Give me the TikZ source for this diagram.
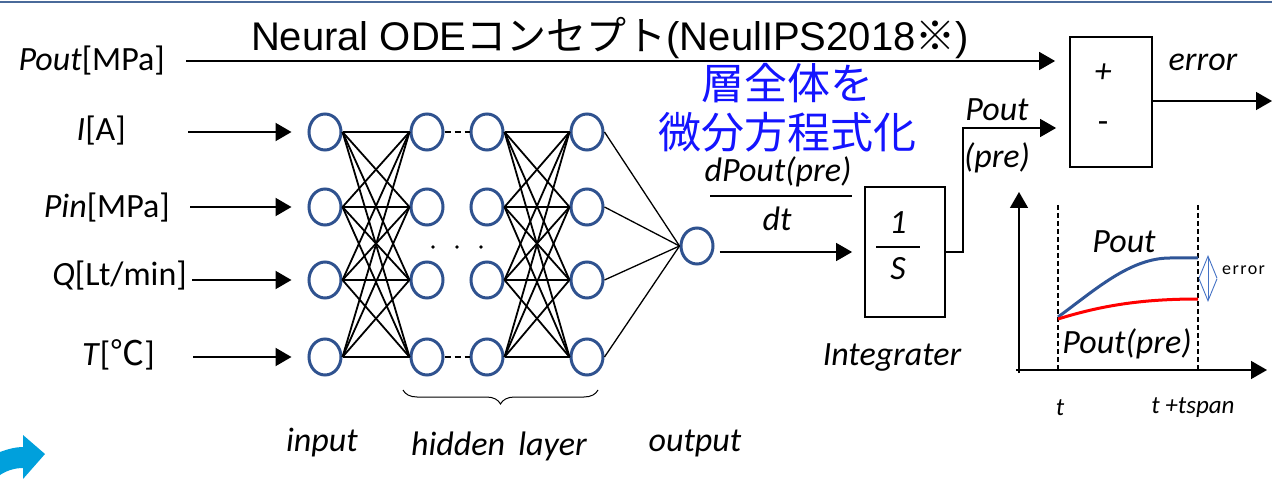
\documentclass[tikz,border=0pt]{standalone}
\usepackage{fontspec}
\setmainfont{Carlito}
\newfontfamily\titlefont{Liberation Sans}
\newfontfamily\jpfont{Noto Sans CJK JP}
\usetikzlibrary{arrows.meta,shapes.geometric,decorations.pathreplacing}
\definecolor{neuronblue}{RGB}{47,82,143}
\definecolor{curveblue}{RGB}{47,85,151}
\definecolor{errblue}{RGB}{68,114,196}
\definecolor{frameblue}{RGB}{74,106,154}
\definecolor{decoblue}{RGB}{0,160,220}
\definecolor{jpblue}{RGB}{20,20,255}
\begin{document}
\begin{tikzpicture}[x=1pt,y=-1pt,
  neuron/.style={ellipse, draw=neuronblue, line width=3pt, minimum width=32pt, minimum height=36pt, inner sep=0pt},
  lab/.style={inner sep=0pt, font=\fontsize{34}{40}\selectfont},
  ilab/.style={inner sep=0pt, font=\fontsize{34}{40}\selectfont\itshape},
  arr/.style={-{Triangle[length=16pt,width=18pt]}},
  link/.style={line width=1.8pt},
  thinlink/.style={line width=1.3pt},
  blockbox/.style={draw, line width=1.8pt, rectangle, inner sep=0pt}
]
\useasboundingbox (0,0) rectangle (1272,486);

% frame line along the top
\draw[frameblue, line width=2pt] (0,2) -- (1272,2);

% title
\node[inner sep=0pt, font=\titlefont\fontsize{40}{48}\selectfont] (title) at (610,38)
  {Neural ODE{\jpfont コンセプト}(NeulIPS2018{\jpfont ※})};

% blue caption
\node[inner sep=0pt, font=\jpfont\fontsize{43}{49}\selectfont, text=jpblue, align=center] (caption) at (787,108)
  {層全体を\\微分方程式化};

% input labels
\node[lab, anchor=east] (lPout) at (165,61) {\textit{Pout}[MPa]};
\node[lab, anchor=east] (lI) at (126,131) {\textit{I}[A]};
\node[lab, anchor=east] (lPin) at (170,208) {\textit{Pin}[MPa]};
\node[lab, anchor=east] (lQ) at (187,276) {\textit{Q}[Lt/min]};
\node[lab, anchor=east] (lT) at (155,355) {\textit{T}[{\jpfont ℃}]};

% neurons
\foreach \c/\x in {1/325,2/427,3/487,4/587}{
  \foreach \r/\y in {1/132,2/207,3/280,4/357}{
    \node[neuron] (n\c\r) at (\x,\y) {};
  }
}
\node[neuron] (o) at (697,246) {};

% fully connected layers
\foreach \a in {1,2,3,4}{
  \foreach \b in {1,2,3,4}{
    \draw[link] (n1\a.east) -- (n2\b.west);
    \draw[link] (n3\a.east) -- (n4\b.west);
  }
  \draw[thinlink] (n4\a.east) -- (o.west);
}
\draw[thinlink, dash pattern=on 6pt off 4pt] (n21.east) -- (n31.west);
\draw[thinlink, dash pattern=on 6pt off 4pt] (n24.east) -- (n34.west);
\foreach \x in {433,457,481}{ \fill (\x,247) circle (1.8pt); }

% input arrows
\coordinate (sI) at (188,132);
\coordinate (sPin) at (190,207);
\coordinate (sQ) at (192,280);
\coordinate (sT) at (193,357);
\draw[arr, line width=2pt, shorten >=16pt] (sI) -- (n11.west);
\draw[arr, line width=2pt, shorten >=16pt] (sPin) -- (n12.west);
\draw[arr, line width=2pt, shorten >=16pt] (sQ) -- (n13.west);
\draw[arr, line width=2pt, shorten >=16pt] (sT) -- (n14.west);

% brace and layer names
\draw[line width=1pt, decorate, decoration={brace, mirror, amplitude=14pt}] (403,390) -- (598,390);
\node[ilab] (tInput) at (322,443) {input};
\node[ilab] (tHidden) at (499,446) {hidden\, layer};
\node[ilab] (tOutput) at (695,443) {output};

% integrator
\node[blockbox, minimum width=80pt, minimum height=130pt] (integ) at (905,252) {};
\node[ilab] (one) at (898,223) {1};
\node[ilab] (sS) at (898,269) {S};
\draw[line width=1.3pt] (876,247) -- (920,247);
\node[ilab] (tInteg) at (892,358) {Integrater};

% derivative label
\node[ilab] (dnum) at (778,172) {dPout(pre)};
\draw[line width=1.3pt] (710,196) -- (852,196);
\node[ilab] (dden) at (777,219) {dt};
\draw[arr, line width=1.5pt, shorten >=12pt] ([xshift=5pt]o.east |- integ.west) -- (integ.west);

% comparison block
\node[blockbox, minimum width=82pt, minimum height=130pt] (sum) at (1111,102) {};
\node[ilab] (plus) at (1103,73) {+};
\node[lab] (minus) at (1103,127) {-};
\node[ilab] (tErr) at (1203,62) {error};

\coordinate (sP) at (186,61);
\draw[arr, line width=1.5pt, shorten >=14pt] (sP) -- (sP -| sum.west);

\coordinate (kink) at (963,128);
\draw[arr, line width=1.5pt, shorten >=13pt] (integ.east) -| (kink) -- (kink -| sum.west);
\node[ilab] (tPre1) at (997,110) {Pout};
\node[ilab] (tPre2) at (997,158) {(pre)};

\coordinate (eOut) at (1272,101);
\draw[arr, line width=1.5pt] (sum.east |- eOut) -- (eOut);

% response plot
\coordinate (org) at (1019,370);
\coordinate (ytop) at (1019,192);
\coordinate (xend) at (1267,370);
\draw[arr, line width=1.5pt] (1019,373) -- (ytop);
\draw[arr, line width=1.5pt] (1016,370) -- (xend);
\draw[line width=1.2pt, dash pattern=on 5pt off 3pt] (1058,205) -- (1058,370);
\draw[line width=1.2pt, dash pattern=on 5pt off 3pt] (1198,205) -- (1198,370);
\draw[curveblue, line width=3pt] (1058,317) .. controls (1095,290) and (1130,258) .. (1170,258) -- (1198,258);
\draw[red, line width=3pt] (1058,319) .. controls (1100,306) and (1140,299) .. (1198,299);
\draw[errblue, line width=0.9pt, {Straight Barb[length=22pt,width=18pt]}-{Straight Barb[length=22pt,width=18pt]}] (1208,255) -- (1208,302);
\node[inner sep=0pt, anchor=west, font=\fontsize{18}{20}\selectfont\addfontfeature{LetterSpace=8}] (tErrSmall) at (1222,270) {error};
\node[ilab] (gPout) at (1124,242) {Pout};
\node[ilab] (gPre) at (1127,344) {Pout(pre)};
\node[inner sep=0pt, font=\fontsize{25}{30}\selectfont\itshape] (tt) at (1060,408) {t};
\node[inner sep=0pt, font=\fontsize{25}{30}\selectfont\itshape] (tts) at (1193,408) {t +tspan};

% navigation arrow in the corner
\fill[decoblue] (0,452) .. controls (8,449) and (16,447) .. (23,447) -- (23,435) -- (45,454) -- (23,479) -- (23,468) .. controls (14,468) and (6,471) .. (0,475) -- cycle;
\end{tikzpicture}
\end{document}
